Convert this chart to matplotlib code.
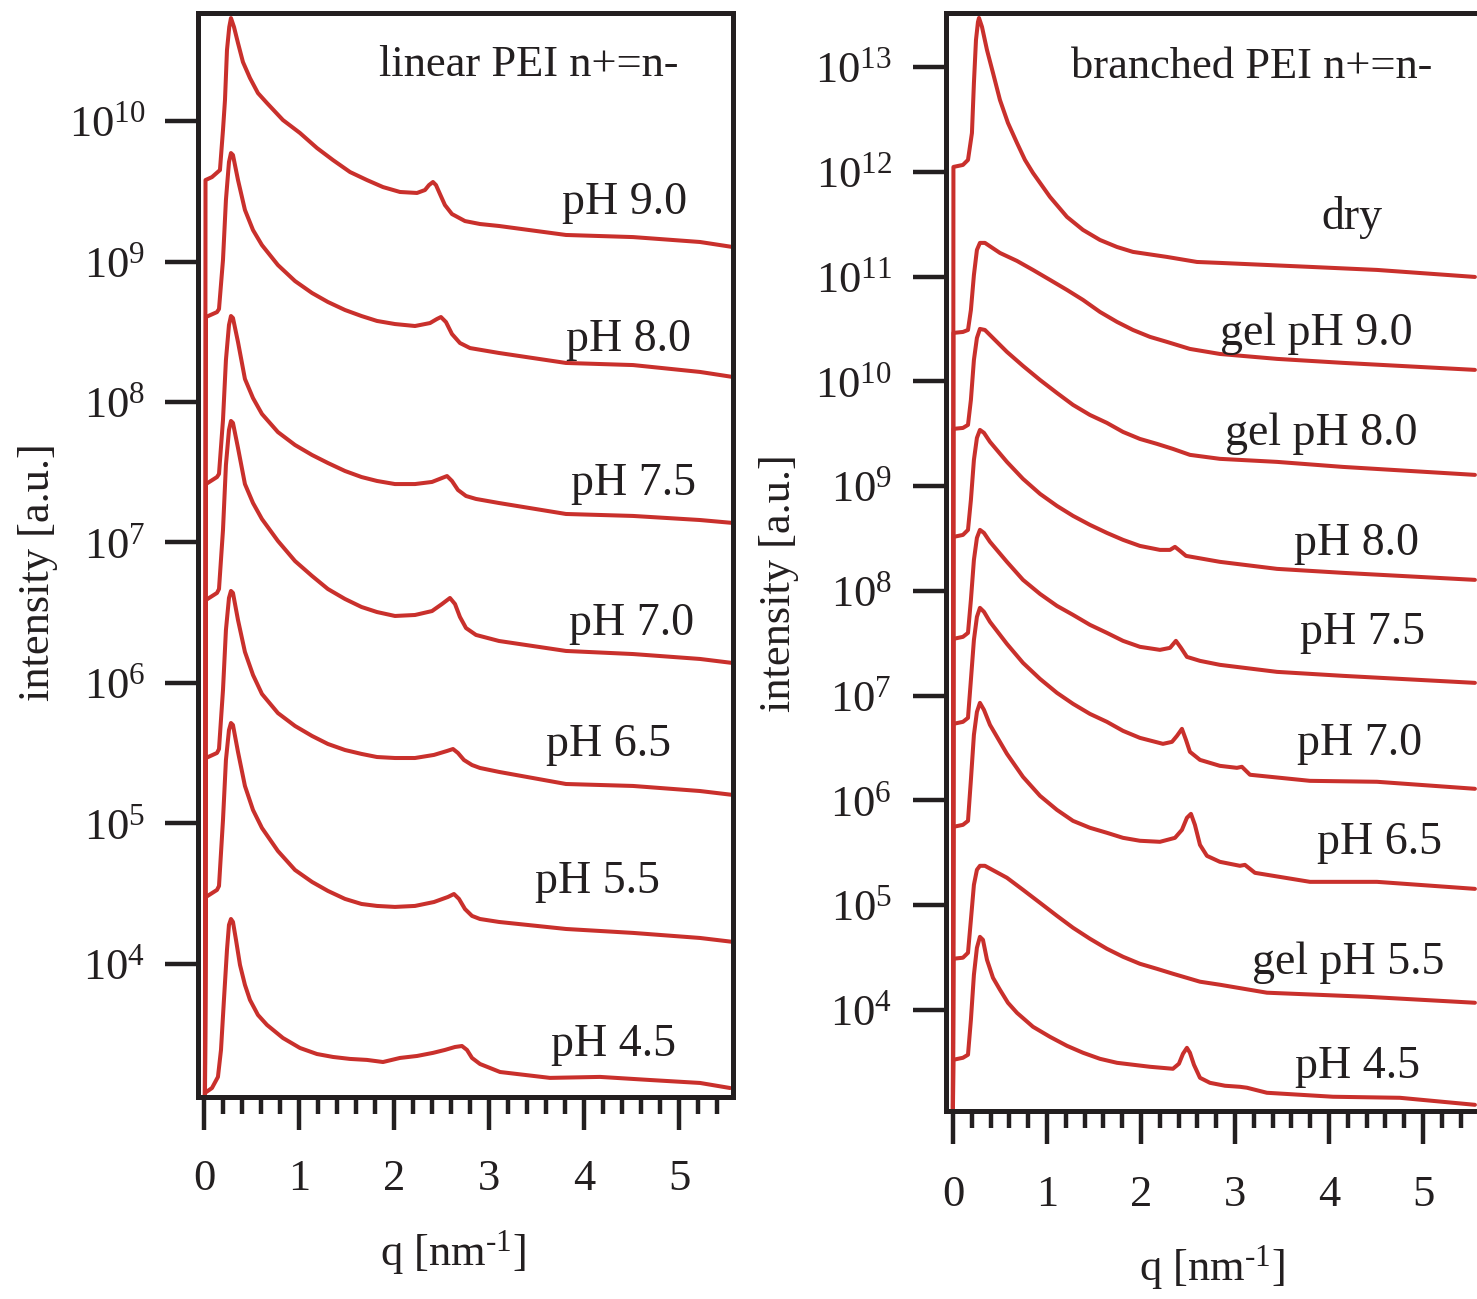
import numpy as np
import matplotlib
matplotlib.use("Agg")
import matplotlib.pyplot as plt
from matplotlib.ticker import MultipleLocator, LogLocator, NullLocator, LogFormatterSciNotation

plt.rcParams['font.family'] = ['Liberation Serif', 'DejaVu Serif']
plt.rcParams['mathtext.fontset'] = 'custom'
plt.rcParams['mathtext.rm'] = 'Liberation Serif'
plt.rcParams['mathtext.it'] = 'Liberation Serif:italic'

RED = '#c9302c'

# ---------------- Left panel: linear PEI (q in nm^-1, log10 intensity) ----------------
lin_labels = ['pH 9.0', 'pH 8.0', 'pH 7.5', 'pH 7.0', 'pH 6.5', 'pH 5.5', 'pH 4.5']

lin_q_90 = [0.007, 0.013, 0.081, 0.165, 0.197, 0.218, 0.239, 0.263, 0.281, 0.313, 0.355, 0.407, 0.481, 0.565,
            0.660, 0.828, 1.007, 1.186, 1.355, 1.534, 1.712, 1.881, 2.060, 2.239, 2.323, 2.365, 2.407, 2.439,
            2.481, 2.533, 2.607, 2.744, 2.902, 3.102, 3.807, 4.513, 5.218, 5.565]
lin_L_90 = [3.0, 9.580, 9.601, 9.651, 9.936, 10.149, 10.505, 10.669, 10.733, 10.669, 10.555, 10.420, 10.306,
            10.199, 10.128, 10.007, 9.915, 9.808, 9.722, 9.637, 9.580, 9.530, 9.495, 9.488, 9.509, 9.544, 9.566,
            9.544, 9.480, 9.402, 9.338, 9.288, 9.267, 9.253, 9.189, 9.174, 9.139, 9.103]

lin_q_80 = [0.007, 0.018, 0.134, 0.155, 0.197, 0.228, 0.260, 0.281, 0.302, 0.355, 0.428, 0.513, 0.607, 0.775,
            0.955, 1.134, 1.301, 1.481, 1.655, 1.818, 2.007, 2.218, 2.376, 2.449, 2.491, 2.544, 2.607, 2.691,
            2.797, 3.102, 3.807, 4.513, 5.218, 5.565]
lin_L_80 = [3.0, 8.605, 8.640, 8.662, 9.011, 9.438, 9.708, 9.772, 9.758, 9.580, 9.367, 9.224, 9.117, 8.975,
            8.861, 8.776, 8.712, 8.655, 8.612, 8.577, 8.555, 8.541, 8.562, 8.591, 8.605, 8.569, 8.484, 8.420,
            8.384, 8.349, 8.278, 8.263, 8.214, 8.178]

lin_q_75 = [0.007, 0.018, 0.134, 0.155, 0.197, 0.228, 0.260, 0.281, 0.302, 0.355, 0.428, 0.513, 0.607, 0.775,
            0.955, 1.134, 1.301, 1.481, 1.655, 1.818, 2.007, 2.218, 2.397, 2.502, 2.555, 2.607, 2.670, 2.755,
            2.860, 3.102, 3.807, 4.513, 5.218, 5.565]
lin_L_75 = [3.0, 7.416, 7.466, 7.488, 7.872, 8.299, 8.548, 8.612, 8.598, 8.427, 8.164, 8.028, 7.915, 7.786,
            7.694, 7.623, 7.566, 7.509, 7.466, 7.438, 7.416, 7.416, 7.431, 7.459, 7.473, 7.438, 7.374, 7.331,
            7.310, 7.281, 7.203, 7.189, 7.160, 7.139]

lin_q_70 = [0.007, 0.018, 0.134, 0.155, 0.197, 0.228, 0.260, 0.281, 0.302, 0.355, 0.428, 0.513, 0.607, 0.775,
            0.955, 1.134, 1.301, 1.481, 1.655, 1.818, 2.007, 2.218, 2.397, 2.502, 2.586, 2.639, 2.691, 2.755,
            2.860, 3.102, 3.807, 4.513, 5.218, 5.565]
lin_L_70 = [3.0, 6.591, 6.641, 6.669, 7.089, 7.552, 7.801, 7.865, 7.851, 7.673, 7.416, 7.281, 7.167, 7.011,
            6.868, 6.762, 6.669, 6.598, 6.541, 6.505, 6.477, 6.484, 6.512, 6.562, 6.605, 6.562, 6.470, 6.391,
            6.342, 6.299, 6.228, 6.206, 6.171, 6.142]

lin_q_65 = [0.007, 0.018, 0.134, 0.155, 0.197, 0.228, 0.260, 0.281, 0.302, 0.355, 0.428, 0.513, 0.607, 0.775,
            0.955, 1.134, 1.301, 1.481, 1.655, 1.818, 2.007, 2.218, 2.418, 2.555, 2.618, 2.670, 2.733, 2.818,
            2.902, 3.102, 3.807, 4.513, 5.218, 5.565]
lin_L_65 = [3.0, 5.466, 5.502, 5.530, 5.950, 6.377, 6.605, 6.655, 6.641, 6.448, 6.221, 6.057, 5.922, 5.786,
            5.694, 5.623, 5.566, 5.523, 5.495, 5.473, 5.466, 5.466, 5.488, 5.516, 5.530, 5.502, 5.452, 5.416,
            5.395, 5.367, 5.281, 5.267, 5.231, 5.203]

lin_q_55 = [0.007, 0.018, 0.134, 0.155, 0.197, 0.228, 0.260, 0.281, 0.302, 0.355, 0.428, 0.513, 0.607, 0.775,
            0.955, 1.134, 1.301, 1.481, 1.655, 1.818, 2.007, 2.218, 2.418, 2.565, 2.628, 2.681, 2.744, 2.818,
            2.902, 3.102, 3.807, 4.513, 5.218, 5.565]
lin_L_55 = [3.0, 4.477, 4.527, 4.555, 5.025, 5.452, 5.665, 5.715, 5.701, 5.509, 5.267, 5.096, 4.968, 4.804,
            4.669, 4.584, 4.520, 4.463, 4.427, 4.413, 4.406, 4.413, 4.441, 4.477, 4.498, 4.463, 4.391, 4.342,
            4.320, 4.299, 4.249, 4.221, 4.185, 4.157]

lin_q_45 = [0.007, 0.081, 0.144, 0.176, 0.207, 0.239, 0.260, 0.281, 0.302, 0.334, 0.376, 0.428, 0.481, 0.565,
            0.660, 0.828, 1.007, 1.186, 1.355, 1.534, 1.712, 1.881, 2.060, 2.239, 2.407, 2.533, 2.639, 2.712,
            2.765, 2.818, 2.902, 3.113, 3.639, 4.165, 4.692, 5.218, 5.534]
lin_L_45 = [3.082, 3.117, 3.196, 3.388, 3.744, 4.100, 4.278, 4.320, 4.299, 4.171, 3.993, 3.851, 3.744, 3.637,
            3.566, 3.473, 3.402, 3.359, 3.338, 3.324, 3.317, 3.302, 3.331, 3.345, 3.367, 3.388, 3.409, 3.416,
            3.388, 3.331, 3.288, 3.231, 3.189, 3.196, 3.174, 3.153, 3.117]

lin_q = [lin_q_90, lin_q_80, lin_q_75, lin_q_70, lin_q_65, lin_q_55, lin_q_45]
lin_L = [lin_L_90, lin_L_80, lin_L_75, lin_L_70, lin_L_65, lin_L_55, lin_L_45]

# ---------------- Right panel: branched PEI ----------------
br_labels = ['dry', 'gel pH 9.0', 'gel pH 8.0', 'pH 8.0', 'pH 7.5', 'pH 7.0', 'pH 6.5', 'gel pH 5.5', 'pH 4.5']

br_q_dry = [0.0, 0.005, 0.106, 0.160, 0.202, 0.223, 0.245, 0.266, 0.277, 0.309, 0.362, 0.426, 0.500, 0.585,
            0.681, 0.766, 0.851, 1.032, 1.213, 1.383, 1.564, 1.745, 1.915, 2.277, 2.596, 2.840, 3.798, 4.511, 5.553]
br_L_dry = [3.0, 12.046, 12.065, 12.113, 12.370, 12.847, 13.258, 13.429, 13.468, 13.382, 13.162, 12.943,
            12.685, 12.466, 12.275, 12.113, 11.989, 11.760, 11.569, 11.445, 11.349, 11.282, 11.235, 11.187,
            11.139, 11.130, 11.092, 11.063, 10.996]

br_q_g90 = [0.0, 0.005, 0.106, 0.160, 0.191, 0.223, 0.255, 0.287, 0.340, 0.500, 0.681, 0.851, 1.032, 1.213,
            1.383, 1.564, 1.745, 1.915, 2.096, 2.277, 2.521, 2.840, 3.447, 4.149, 5.553]
br_L_g90 = [3.0, 10.462, 10.471, 10.490, 10.681, 11.015, 11.254, 11.321, 11.321, 11.225, 11.149, 11.063,
            10.968, 10.872, 10.777, 10.662, 10.567, 10.490, 10.424, 10.376, 10.309, 10.261, 10.214, 10.176, 10.109]

br_q_g80 = [0.0, 0.005, 0.106, 0.160, 0.191, 0.223, 0.255, 0.287, 0.340, 0.574, 0.745, 0.926, 1.106, 1.277,
            1.457, 1.638, 1.809, 1.989, 2.170, 2.340, 2.521, 2.840, 3.447, 4.149, 5.553]
br_L_g80 = [3.0, 9.546, 9.555, 9.584, 9.823, 10.204, 10.414, 10.500, 10.490, 10.281, 10.147, 10.013, 9.889,
            9.775, 9.679, 9.603, 9.517, 9.450, 9.403, 9.355, 9.298, 9.260, 9.231, 9.183, 9.107]

br_q_80 = [0.0, 0.005, 0.106, 0.160, 0.191, 0.223, 0.255, 0.287, 0.330, 0.394, 0.574, 0.745, 0.926, 1.106,
           1.277, 1.457, 1.638, 1.809, 1.989, 2.202, 2.309, 2.362, 2.415, 2.479, 2.840, 3.447, 4.149, 5.553]
br_L_80 = [3.0, 8.515, 8.534, 8.582, 8.868, 9.250, 9.460, 9.536, 9.508, 9.422, 9.231, 9.069, 8.926, 8.811,
           8.716, 8.630, 8.553, 8.487, 8.429, 8.391, 8.391, 8.420, 8.382, 8.334, 8.277, 8.210, 8.172, 8.105]

br_q_75 = [0.0, 0.005, 0.106, 0.160, 0.191, 0.223, 0.255, 0.287, 0.330, 0.394, 0.574, 0.745, 0.926, 1.106,
           1.277, 1.457, 1.638, 1.809, 1.989, 2.202, 2.309, 2.372, 2.426, 2.489, 2.628, 2.840, 3.447, 4.149, 5.553]
br_L_75 = [3.0, 7.542, 7.561, 7.599, 7.914, 8.296, 8.506, 8.582, 8.553, 8.468, 8.277, 8.105, 7.971, 7.857,
           7.771, 7.676, 7.599, 7.523, 7.466, 7.437, 7.456, 7.523, 7.456, 7.370, 7.332, 7.294, 7.227, 7.189, 7.122]

br_q_70 = [0.0, 0.005, 0.106, 0.160, 0.191, 0.223, 0.255, 0.287, 0.330, 0.394, 0.574, 0.745, 0.926, 1.106,
           1.277, 1.457, 1.638, 1.809, 1.989, 2.234, 2.330, 2.383, 2.436, 2.479, 2.521, 2.628, 2.840, 3.021,
           3.074, 3.160, 3.798, 4.511, 5.553]
br_L_70 = [3.0, 6.731, 6.750, 6.788, 7.151, 7.532, 7.752, 7.838, 7.800, 7.704, 7.494, 7.313, 7.160, 7.027,
           6.922, 6.826, 6.750, 6.664, 6.597, 6.540, 6.559, 6.616, 6.683, 6.578, 6.464, 6.387, 6.330, 6.311,
           6.321, 6.245, 6.187, 6.178, 6.111]

br_q_65 = [0.0, 0.005, 0.106, 0.160, 0.191, 0.223, 0.255, 0.287, 0.330, 0.394, 0.574, 0.745, 0.926, 1.106,
           1.277, 1.457, 1.638, 1.809, 1.989, 2.202, 2.362, 2.436, 2.489, 2.532, 2.574, 2.628, 2.702, 2.840,
           3.053, 3.106, 3.213, 3.798, 4.511, 5.553]
br_L_65 = [3.0, 5.748, 5.767, 5.805, 6.197, 6.626, 6.845, 6.931, 6.864, 6.721, 6.445, 6.225, 6.044, 5.910,
           5.805, 5.739, 5.691, 5.643, 5.615, 5.605, 5.643, 5.719, 5.834, 5.872, 5.767, 5.576, 5.471, 5.414,
           5.376, 5.385, 5.309, 5.223, 5.223, 5.156]

br_q_g55 = [0.0, 0.005, 0.106, 0.160, 0.191, 0.223, 0.255, 0.287, 0.340, 0.574, 0.745, 0.926, 1.106, 1.277,
            1.457, 1.638, 1.809, 1.989, 2.170, 2.340, 2.628, 2.840, 3.340, 4.404, 5.553]
br_L_g55 = [3.0, 4.489, 4.499, 4.546, 4.861, 5.195, 5.338, 5.376, 5.376, 5.262, 5.147, 5.023, 4.899, 4.785,
            4.680, 4.584, 4.508, 4.441, 4.393, 4.346, 4.270, 4.241, 4.165, 4.126, 4.069]

br_q_45 = [0.0, 0.005, 0.106, 0.160, 0.191, 0.223, 0.255, 0.287, 0.319, 0.362, 0.426, 0.500, 0.585, 0.681,
           0.851, 1.032, 1.213, 1.383, 1.564, 1.745, 2.096, 2.340, 2.404, 2.447, 2.489, 2.521, 2.564, 2.628,
           2.734, 2.894, 3.053, 3.128, 3.340, 4.043, 4.755, 5.553]
br_L_45 = [3.076, 3.525, 3.544, 3.573, 3.907, 4.336, 4.594, 4.698, 4.670, 4.479, 4.307, 4.193, 4.069, 3.973,
           3.840, 3.744, 3.658, 3.592, 3.534, 3.496, 3.458, 3.439, 3.487, 3.582, 3.639, 3.592, 3.477, 3.353,
           3.305, 3.277, 3.267, 3.258, 3.210, 3.172, 3.162, 3.095]

br_q = [br_q_dry, br_q_g90, br_q_g80, br_q_80, br_q_75, br_q_70, br_q_65, br_q_g55, br_q_45]
br_L = [br_L_dry, br_L_g90, br_L_g80, br_L_80, br_L_75, br_L_70, br_L_65, br_L_g55, br_L_45]

# ---------------- Figure ----------------
W, H = 1477, 1299
fig = plt.figure(figsize=(W / 100, H / 100), dpi=100)

ax1 = fig.add_axes([198 / W, 1 - 1097 / H, 535 / W, 1084 / H])
ax2 = fig.add_axes([946 / W, 1 - 1111 / H, 532.4 / W, 1098 / H])

FS = 32
FSL = 33
TC = '#231f20'

def style(ax, xlim, ylim_exp, xpad, ypad):
    ax.set_yscale('log')
    ax.set_xlim(*xlim)
    ax.set_ylim(10 ** ylim_exp[0], 10 ** ylim_exp[1])
    ax.xaxis.set_major_locator(MultipleLocator(1))
    ax.xaxis.set_minor_locator(MultipleLocator(0.2))
    ax.yaxis.set_major_locator(LogLocator(base=10, numticks=30))
    ax.yaxis.set_minor_locator(NullLocator())
    ax.yaxis.set_major_formatter(LogFormatterSciNotation())
    ax.tick_params(axis='both', which='major', direction='out', length=24, width=3.2,
                   labelsize=FS, color=TC, labelcolor=TC)
    ax.tick_params(axis='x', which='major', pad=xpad)
    ax.tick_params(axis='y', which='major', pad=ypad)
    ax.tick_params(axis='x', which='minor', direction='out', length=12.5, width=3.2, color=TC)
    for s in ax.spines.values():
        s.set_linewidth(3.6)
        s.set_color(TC)

style(ax1, (-0.066, 5.565), (3.053, 10.769), 21, 14)
style(ax2, (-0.074, 5.59), (3.036, 13.515), 22, 15)
ax2.spines['right'].set_visible(False)

for q, L in zip(lin_q, lin_L):
    ax1.plot(q, 10 ** np.array(L), color=RED, lw=2.9, solid_joinstyle='round', solid_capstyle='round')
for q, L in zip(br_q, br_L):
    ax2.plot(q, 10 ** np.array(L), color=RED, lw=2.9, solid_joinstyle='round', solid_capstyle='round')

# left panel texts (axes fraction, right-aligned, baseline)
ax1.text(0.899, 0.942, 'linear PEI n+=n-', transform=ax1.transAxes, ha='right', va='baseline',
         fontsize=FS, color=TC)
lin_pos = [(0.914, 0.8146), (0.9215, 0.688), (0.931, 0.5554), (0.927, 0.426),
           (0.884, 0.3146), (0.8636, 0.188), (0.8935, 0.0378)]
for lab, (fx, fy) in zip(lin_labels, lin_pos):
    ax1.text(fx, fy, lab, transform=ax1.transAxes, ha='right', va='baseline', fontsize=FSL, color=TC)

ax2.text(0.913, 0.941, 'branched PEI n+=n-', transform=ax2.transAxes, ha='right', va='baseline',
         fontsize=FS, color=TC)
br_pos = [(0.819, 0.803), (0.877, 0.6976), (0.885, 0.607), (0.889, 0.5064), (0.900, 0.4253),
          (0.894, 0.324), (0.932, 0.2345), (0.9355, 0.1248), (0.8905, 0.0305)]
for lab, (fx, fy) in zip(br_labels, br_pos):
    ax2.text(fx, fy, lab, transform=ax2.transAxes, ha='right', va='baseline', fontsize=FSL, color=TC)

# axis labels
fig.text(38 / W, 1 - 572 / H, 'intensity [a.u.]', rotation=90, ha='center', va='center', fontsize=FS, color=TC)
fig.text(779 / W, 1 - 583 / H, 'intensity [a.u.]', rotation=90, ha='center', va='center', fontsize=FS, color=TC)
xl = 'q [nm$^{\\text{-1}}$]'
fig.text(453 / W, 1 - 1253 / H, xl, ha='center', va='center', fontsize=FS, color=TC)
fig.text(1212 / W, 1 - 1268 / H, xl, ha='center', va='center', fontsize=FS, color=TC)

fig.savefig('out.png', dpi=100, facecolor='white')
